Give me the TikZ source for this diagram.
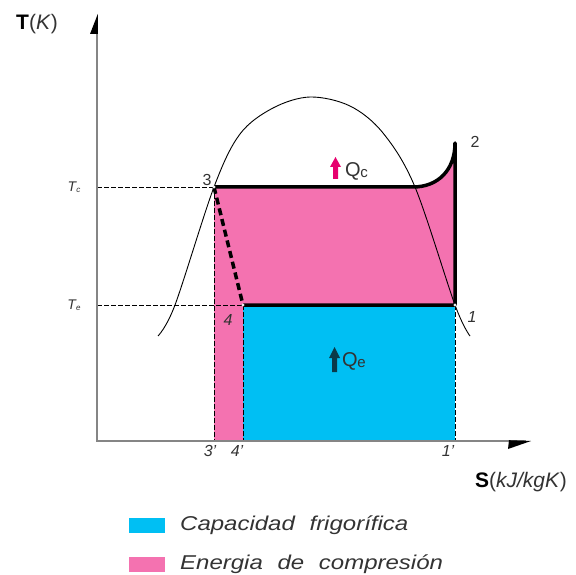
\documentclass[tikz,border=0pt]{standalone}
\usepackage{fontspec}
\setmainfont{Liberation Sans}
\newfontfamily\legfont[FakeStretch=1.2]{Liberation Sans}
\definecolor{cblue}{HTML}{00BFF3}
\definecolor{cpink}{HTML}{F472B0}
\definecolor{qmag}{HTML}{E6006E}
\definecolor{qdark}{HTML}{0A3A4A}
\definecolor{axisgray}{HTML}{858585}
\definecolor{txt}{HTML}{333333}
\begin{document}
\begin{tikzpicture}[x=1pt,y=-1pt,
  thindash/.style={black, line width=0.9pt, dash pattern=on 5pt off 2pt},
  thickline/.style={black, line width=3.5pt, line join=round},
  numlbl/.style={font=\fontsize{16}{18}\selectfont, text=txt, inner sep=0pt},
  tlbl/.style={font=\fontsize{14}{16}\selectfont\itshape, text=txt, inner sep=0pt},
  axlbl/.style={font=\fontsize{21}{24}\selectfont, inner sep=0pt},
  qlbl/.style={font=\fontsize{20}{22}\selectfont, text=txt, inner sep=0pt},
  leg/.style={font=\fontsize{20}{22}\selectfont\legfont\itshape, text=txt, inner sep=0pt, anchor=west}
]
\useasboundingbox (0,0) rectangle (576,575);
% key points
\coordinate (p3) at (214,187);
\coordinate (p4) at (243,305);
\coordinate (p1) at (455,305);
\coordinate (p2) at (455,143);
\coordinate (k) at (413,187);
\coordinate (o) at (97,441);
\coordinate (ytop) at (97,20);
\coordinate (xend) at (526,441);
\coordinate (p3b) at (214,441);
\coordinate (p4b) at (243,441);
\coordinate (p1b) at (455,441);
\coordinate (tc) at (97,187);
\coordinate (te) at (97,305);
% fills
\fill[cpink] (p3) -- (k) .. controls (438,187) and (455,170) .. (p2) -- (p1) -- (p4) -- (p4b) -- (p3b) -- cycle;
\fill[cblue] (p4) rectangle (p1b);
% thin dashed guides
\draw[thindash] (tc) -- (p3);
\draw[thindash] (te) -- (p4);
\draw[thindash] (p3) -- (p3b);
\draw[thindash] (p4) -- (p4b);
\draw[thindash] (p1) -- (p1b);
% saturation dome
\draw[black, line width=0.9pt] plot[smooth, tension=0.55] coordinates {(158,336) (175,305) (214,187) (240,134) (273,108) (310,97) (350,106) (383,133) (415,187) (455,305) (470,336)};
% cycle
\draw[thickline] (p3) -- (k) .. controls (438,187) and (455,170) .. (p2) -- (p1) -- (p4);
\draw[black, line width=3.5pt, dash pattern=on 7pt off 4pt] (p3) -- (p4);
% point markers
\foreach \p in {p3,p4,p1} \fill[white!85!gray] (\p) circle (1.6pt);
% axes
\draw[axisgray, line width=1.8pt] (ytop) -- (o) -- (xend);
\fill[black] (97.8,14) -- (90,34) -- (97.8,34) -- cycle;
\fill[black] (531,441) -- (509,440.2) -- (508,449) -- cycle;
% heat arrows
\fill[qmag] (335.5,157) -- (341,167) -- (338,167) -- (338,179) -- (333,179) -- (333,167) -- (330,167) -- cycle;
\node[qlbl, anchor=west] (qc) at (345,171) {Q\kern-0.5pt\raisebox{-1pt}{\fontsize{15}{16}\selectfont c}};
\fill[qdark] (334.5,347) -- (340,358) -- (337,358) -- (337,372) -- (332,372) -- (332,358) -- (329,358) -- cycle;
\node[qlbl, anchor=west] (qe) at (342,361) {Q\kern-0.5pt\raisebox{-1pt}{\fontsize{15}{16}\selectfont e}};
% labels
\node[axlbl, anchor=center] (tk) at (37,24) {\textbf{T}\textcolor{txt}{(\textit{K})}};
\node[axlbl, anchor=center] (sk) at (521,482) {\textbf{S}\textcolor{txt}{(\textit{kJ/kgK})}};
\node[tlbl] (tcl) at (74,187) {T\raisebox{-1.5pt}{\fontsize{8}{9}\selectfont c}};
\node[tlbl] (tel) at (74,305) {T\raisebox{-1.5pt}{\fontsize{8}{9}\selectfont e}};
\node[numlbl] (l3) at (207,180) {3};
\node[numlbl] (l2) at (475,142) {2};
\node[numlbl, font=\fontsize{16}{18}\selectfont\itshape] (l4) at (228,320) {4};
\node[numlbl, font=\fontsize{16}{18}\selectfont\itshape] (l1) at (472,317) {1};
\node[numlbl, font=\fontsize{16}{18}\selectfont\itshape] (l3b) at (210,451) {3'};
\node[numlbl, font=\fontsize{16}{18}\selectfont\itshape] (l4b) at (237,451) {4'};
\node[numlbl, font=\fontsize{16}{18}\selectfont\itshape] (l1b) at (448,451) {1'};
% legend
\fill[cblue] (129,518) rectangle (165,533);
\node[leg] (leg1) at (180,525) {Capacidad\hspace{8pt} frigorífica};
\fill[cpink] (129,557) rectangle (165,572);
\node[leg] (leg2) at (180,564) {Energia\hspace{8pt} de\hspace{8pt} compresión};
\end{tikzpicture}
\end{document}
